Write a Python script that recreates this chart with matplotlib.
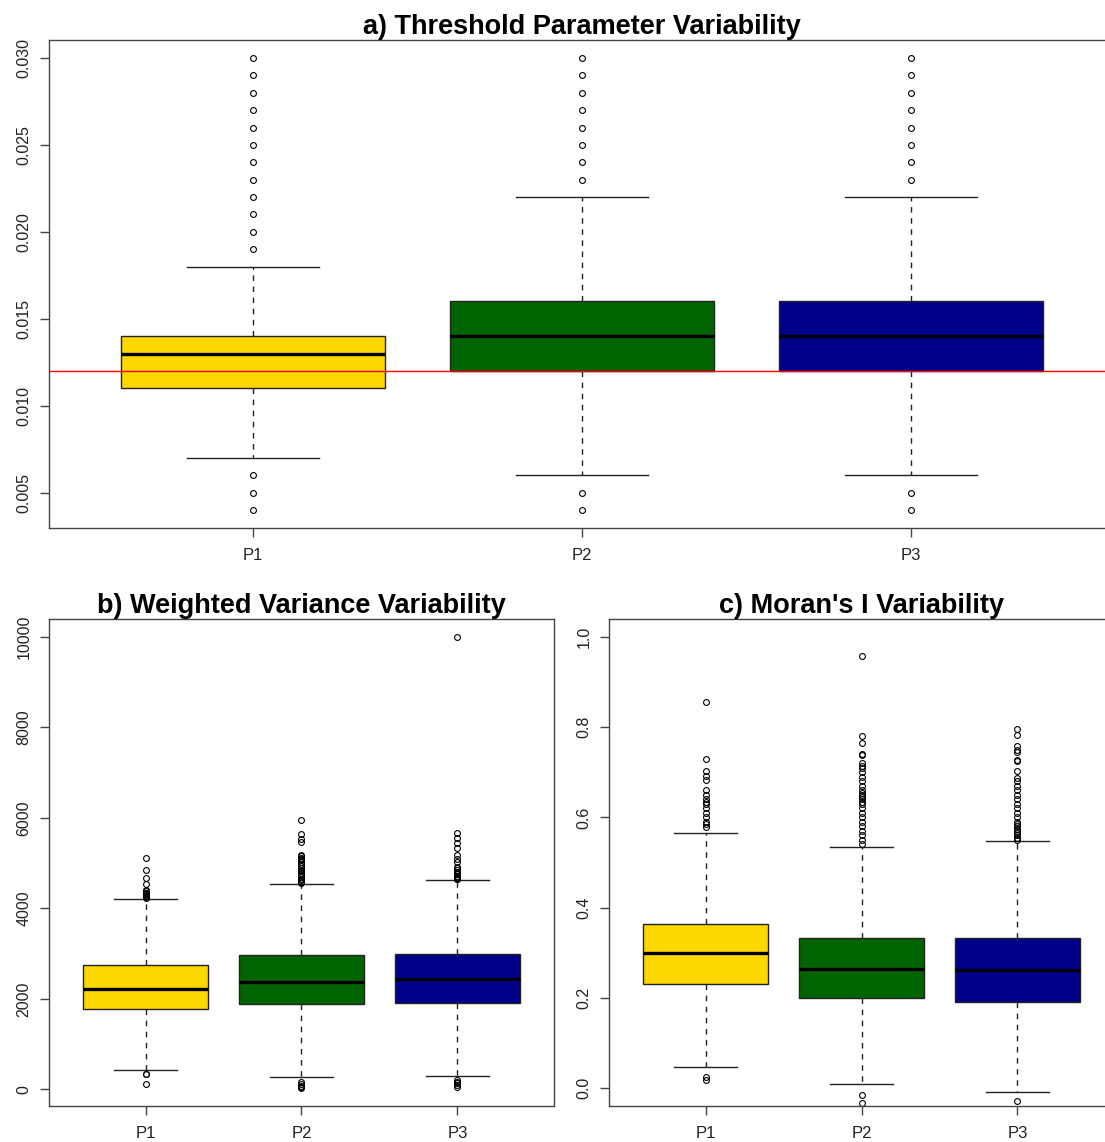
import matplotlib
matplotlib.use("Agg")
import matplotlib.pyplot as plt

# groups and fill colours
groups = ["P1", "P2", "P3"]
colors = ["#FFD700", "#006400", "#00008B"]

# a) threshold parameter: (q1, median, q3, whisker low, whisker high)
thr_q1 = [0.011, 0.012, 0.012]
thr_med = [0.013, 0.014, 0.014]
thr_q3 = [0.014, 0.016, 0.016]
thr_wlo = [0.007, 0.006, 0.006]
thr_whi = [0.018, 0.022, 0.022]
thr_out = [
    [0.019, 0.020, 0.021, 0.022, 0.023, 0.024, 0.025, 0.026, 0.027, 0.028, 0.029, 0.030,
     0.006, 0.005, 0.004],
    [0.023, 0.024, 0.025, 0.026, 0.027, 0.028, 0.029, 0.030, 0.005, 0.004],
    [0.023, 0.024, 0.025, 0.026, 0.027, 0.028, 0.029, 0.030, 0.005, 0.004],
]
thr_ref = 0.012

# b) weighted variance
wv_q1 = [1777, 1881, 1910]
wv_med = [2219, 2374, 2449]
wv_q3 = [2759, 2972, 2994]
wv_wlo = [427, 273, 302]
wv_whi = [4219, 4550, 4631]
wv_out = [
    [5117, 4860, 4676, 4550, 4403, 4380, 4350, 4330, 4310, 4290, 4270, 4250, 4235,
     347, 330, 118],
    [5958, 5642, 5538, 5472, 5177, 5150, 5120, 5090, 5060, 5020, 4980, 4940, 4900,
     4860, 4820, 4780, 4740, 4700, 4660, 4620, 4590, 4565, 160, 120, 80, 45, 30],
    [10000, 5671, 5546, 5436, 5325, 5177, 5100, 5029, 4918, 4890, 4850, 4810, 4780,
     4750, 4720, 4700, 4680, 4660, 4640, 214, 170, 130, 90, 50],
]

# c) Moran's I
mi_q1 = [0.2313, 0.2002, 0.190]
mi_med = [0.2993, 0.2645, 0.2616]
mi_q3 = [0.3643, 0.3333, 0.3333]
mi_wlo = [0.0457, 0.008, -0.0082]
mi_whi = [0.5646, 0.5335, 0.5468]
mi_out = [
    [0.855, 0.7295, 0.704, 0.6925, 0.6836, 0.66, 0.65, 0.64, 0.635, 0.63, 0.62, 0.61,
     0.60, 0.59, 0.585, 0.578, 0.0244, 0.0166],
    [0.958, 0.7797, 0.765, 0.7413, 0.738, 0.72, 0.715, 0.71, 0.70, 0.69, 0.68, 0.67,
     0.66, 0.655, 0.65, 0.645, 0.64, 0.635, 0.63, 0.62, 0.61, 0.60, 0.59, 0.58, 0.57,
     0.56, 0.55, 0.54, -0.0149, -0.0333],
    [0.796, 0.7834, 0.7575, 0.7486, 0.745, 0.728, 0.725, 0.702, 0.687, 0.68, 0.67,
     0.66, 0.65, 0.64, 0.63, 0.62, 0.61, 0.602, 0.59, 0.585, 0.58, 0.575, 0.57, 0.565,
     0.56, 0.555, 0.55, -0.028],
]

plt.rcParams.update({"font.family": ["Liberation Sans", "DejaVu Sans"]})
AX = "#444444"


def stats(q1, med, q3, wlo, whi, out):
    return [dict(q1=q1[i], med=med[i], q3=q3[i], whislo=wlo[i], whishi=whi[i],
                 fliers=out[i], label=groups[i]) for i in range(len(groups))]


def rlim(lo, hi):
    # R's default 4% axis extension
    d = (hi - lo) * 0.04
    return lo - d, hi + d


def panel(ax, st, title, yticks, ylabels, ylim):
    b = ax.bxp(st, positions=[1, 2, 3], widths=0.8, capwidths=0.4, patch_artist=True,
               boxprops=dict(edgecolor="#222222", lw=1.0),
               medianprops=dict(color="black", lw=2.4, solid_capstyle="butt"),
               whiskerprops=dict(color="#222222", lw=1.0, linestyle=(0, (4, 4))),
               capprops=dict(color="#222222", lw=1.0),
               flierprops=dict(marker="o", markersize=4.2, markerfacecolor="none",
                               markeredgecolor="black", markeredgewidth=0.8))
    for p, c in zip(b["boxes"], colors):
        p.set_facecolor(c)
    ax.set_xlim(0.38, 3.62)
    ax.set_ylim(*ylim)
    ax.set_yticks(yticks)
    ax.set_yticklabels(ylabels, rotation=90, va="center")
    ax.tick_params(axis="both", length=6.5, width=1.0, color=AX, labelsize=11.5,
                   labelcolor="#222222")
    ax.tick_params(axis="y", pad=6)
    ax.tick_params(axis="x", pad=8, labelsize=12)
    for s in ax.spines.values():
        s.set_color(AX)
        s.set_linewidth(1.0)
    ax.set_title(title, fontsize=19.5, fontweight="bold", pad=3)


# panels a and c run past the right edge of the canvas, as in the original
fig = plt.figure(figsize=(11.05, 11.42), dpi=100)
ax_a = fig.add_axes([49 / 1105, 1 - 528 / 1142, 1066 / 1105, 488 / 1142])
ax_b = fig.add_axes([49 / 1105, 1 - 1106 / 1142, 505 / 1105, 487 / 1142])
ax_c = fig.add_axes([609 / 1105, 1 - 1106 / 1142, 505 / 1105, 487 / 1142])

panel(ax_a, stats(thr_q1, thr_med, thr_q3, thr_wlo, thr_whi, thr_out),
      "a) Threshold Parameter Variability",
      [0.005, 0.010, 0.015, 0.020, 0.025, 0.030],
      ["0.005", "0.010", "0.015", "0.020", "0.025", "0.030"], rlim(0.004, 0.030))
ax_a.axhline(thr_ref, color="red", lw=1.0, zorder=5)

panel(ax_b, stats(wv_q1, wv_med, wv_q3, wv_wlo, wv_whi, wv_out),
      "b) Weighted Variance Variability",
      [0, 2000, 4000, 6000, 8000, 10000],
      ["0", "2000", "4000", "6000", "8000", "10000"], rlim(30, 10000))

panel(ax_c, stats(mi_q1, mi_med, mi_q3, mi_wlo, mi_whi, mi_out),
      "c) Moran's I Variability",
      [0.0, 0.2, 0.4, 0.6, 0.8, 1.0],
      ["0.0", "0.2", "0.4", "0.6", "0.8", "1.0"], rlim(0.0, 1.0))

fig.savefig("out.png", dpi=100)
